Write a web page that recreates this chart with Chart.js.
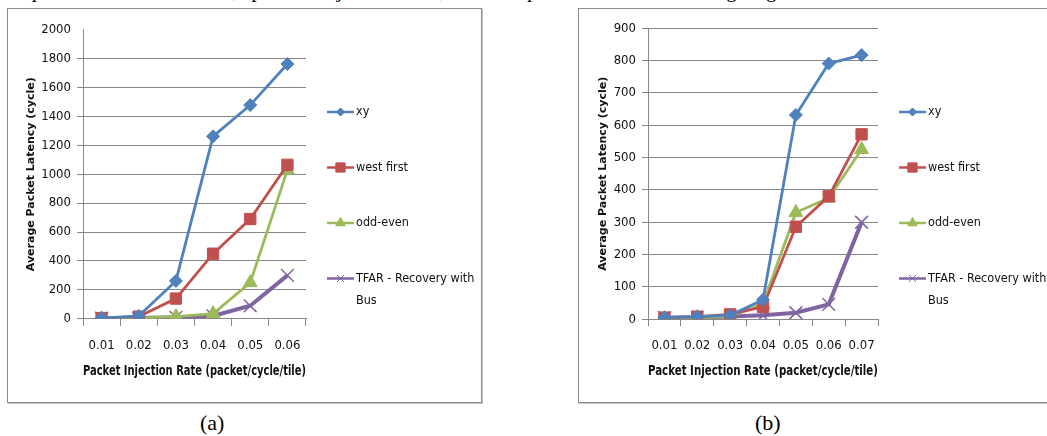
<!DOCTYPE html>
<html><head><meta charset="utf-8">
<script src="https://cdn.jsdelivr.net/npm/chart.js@4"></script>
<style>
html,body{margin:0;padding:0;background:#fff;width:1047px;height:436px;overflow:hidden;position:relative;font-family:'Liberation Serif','Times New Roman',serif;}
.frame{position:absolute;border:1px solid #8c8c8c;box-shadow:1px 1px 0 #c4c4c4;box-sizing:border-box;}
#fa{left:7px;top:8px;width:475px;height:395px;}
#fb{left:578px;top:8px;width:480px;height:395px;}
canvas{position:absolute;}
#ca{left:9px;top:10px;}
#cb{left:580px;top:10px;}
.cap{position:absolute;font-size:22px;top:411px;line-height:24px;}
#topline{position:absolute;left:0;top:-20px;width:1047px;font-size:21px;line-height:20px;white-space:nowrap;word-spacing:9px;}
</style>
</head><body>
<div id="topline">as provided in this case, packet injection rate, as compared to other routing algorithms</div>
<div class="frame" id="fa"></div>
<div class="frame" id="fb"></div>
<canvas id="ca" width="471" height="390"></canvas>
<canvas id="cb" width="467" height="390"></canvas>
<div class="cap" style="left:200px;">(a)</div>
<div class="cap" style="left:755px;">(b)</div>
<script>
// ---- data ----
const seriesNames = ['xy', 'west first', 'odd-even', 'TFAR - Recovery with Bus'];
const ratesA = ['0.01', '0.02', '0.03', '0.04', '0.05', '0.06'];
const xyA = [5, 20, 262, 1262, 1478, 1762];
const westFirstA = [5, 15, 140, 450, 690, 1065];
const oddEvenA = [0, 5, 15, 35, 250, 1030];
const tfarA = [5, 5, 10, 20, 90, 300];
const ratesB = ['0.01', '0.02', '0.03', '0.04', '0.05', '0.06', '0.07'];
const xyB = [5, 8, 12, 60, 632, 791, 817];
const westFirstB = [5, 8, 15, 38, 286, 380, 572];
const oddEvenB = [2, 5, 8, 48, 330, 375, 525];
const tfarB = [5, 5, 8, 12, 20, 46, 300];
const yMaxA = 2000, yStepA = 200;
const yMaxB = 900, yStepB = 100;
const xTitle = 'Packet Injection Rate (packet/cycle/tile)';
const yTitle = 'Average Packet Latency (cycle)';

// ---- styles ----
const colors = ['#4F81BD', '#C0504D', '#9BBB59', '#8064A2'];
const pStyles = ['rectRot', 'rect', 'triangle', 'crossRot'];
const pRadius = [6.5, 8, 8, 9];
const lWidth = [2.8, 2.8, 2.8, 4];
const legRadius = [4, 6.5, 5.5, 5];
const narrow = "'Liberation Sans Narrow','DejaVu Sans Condensed','Roboto Condensed','Arial Narrow',sans-serif";
const gridGray = '#878787';

const sideLegend = {
  id: 'sideLegend',
  afterDraw(chart) {
    const ctx = chart.ctx;
    const x0 = chart.chartArea.right + 21;
    const top = 102, gap = 55.5;
    chart.data.datasets.forEach((ds, i) => {
      const y = top + i * gap;
      ctx.save();
      ctx.strokeStyle = ds.borderColor;
      ctx.lineWidth = 2.5;
      ctx.beginPath(); ctx.moveTo(x0, y); ctx.lineTo(x0 + 27, y); ctx.stroke();
      ctx.fillStyle = ds.borderColor;
      ctx.lineWidth = 1;
      Chart.helpers.drawPoint(ctx, {pointStyle: ds.pointStyle, radius: legRadius[i], borderWidth: 1, rotation: 0}, x0 + 13.5, y);
      if (ds.pointStyle !== 'crossRot') ctx.fill();
      ctx.fillStyle = '#111';
      ctx.font = '12.5px ' + narrow;
      ctx.textBaseline = 'middle';
      const words = ds.label.split(' ');
      let line = '', lines = [];
      words.forEach(w => {
        const t = line ? line + ' ' + w : w;
        if (ctx.measureText(t).width > 125 && line) { lines.push(line); line = w; } else line = t;
      });
      lines.push(line);
      lines.forEach((l, k) => ctx.fillText(l, x0 + 29, y + k * 22));
      ctx.restore();
    });
  }
};

function makeChart(id, labels, series, yMax, yStep, lay) {
  const datasets = series.map((d, i) => ({
    label: seriesNames[i], data: d,
    borderColor: colors[i], backgroundColor: colors[i],
    pointBackgroundColor: colors[i], pointBorderColor: colors[i],
    borderWidth: lWidth[i], pointStyle: pStyles[i], pointRadius: pRadius[i],
    pointBorderWidth: i === 3 ? 1.5 : 1, tension: 0
  }));
  return new Chart(document.getElementById(id), {
    type: 'line',
    data: {labels, datasets},
    plugins: [sideLegend],
    options: {
      responsive: false, animation: false,
      layout: {padding: {left: lay.left, right: lay.right, top: lay.top, bottom: 20}},
      plugins: {legend: {display: false}, tooltip: {enabled: false}},
      scales: {
        x: {
          offset: true,
          grid: {display: true, drawOnChartArea: false, drawTicks: true, tickLength: 7, color: gridGray, offset: true},
          border: {display: true, color: gridGray, width: 1},
          ticks: {color: '#111', font: {family: narrow, size: 13}, padding: 12, maxRotation: 0},
          title: {display: true, text: xTitle, color: '#111', font: {family: narrow, size: 14, weight: 'bold'}, padding: 0},
          afterFit: s => { s.height = lay.xh; }
        },
        y: {
          min: 0, max: yMax,
          grid: {color: ctx => (lay.hideTop && ctx.tick && ctx.tick.value === yMax) ? 'rgba(0,0,0,0)' : gridGray, tickLength: 6, lineWidth: 1},
          border: {display: true, color: gridGray, width: 1},
          ticks: {stepSize: yStep, color: '#111', font: {family: narrow, size: 13}, padding: 6, callback: v => String(v)},
          title: {display: true, text: yTitle, color: '#111', font: {family: "'DejaVu Sans',Verdana,sans-serif", size: 11, weight: 'bold'}, padding: 0},
          afterFit: s => { s.width = lay.yw; }
        }
      }
    }
  });
}

makeChart('ca', ratesA, [xyA, westFirstA, oddEvenA, tfarA], yMaxA, yStepA,
  {left: 15.4, right: 174, top: 19.6, yw: 58.6, xh: 61.2, hideTop: true});
makeChart('cb', ratesB, [xyB, westFirstB, oddEvenB, tfarB], yMaxB, yStepB,
  {left: 16.4, right: 169, top: 18.3, yw: 51.6, xh: 60.8, hideTop: false});
</script>
</body></html>
